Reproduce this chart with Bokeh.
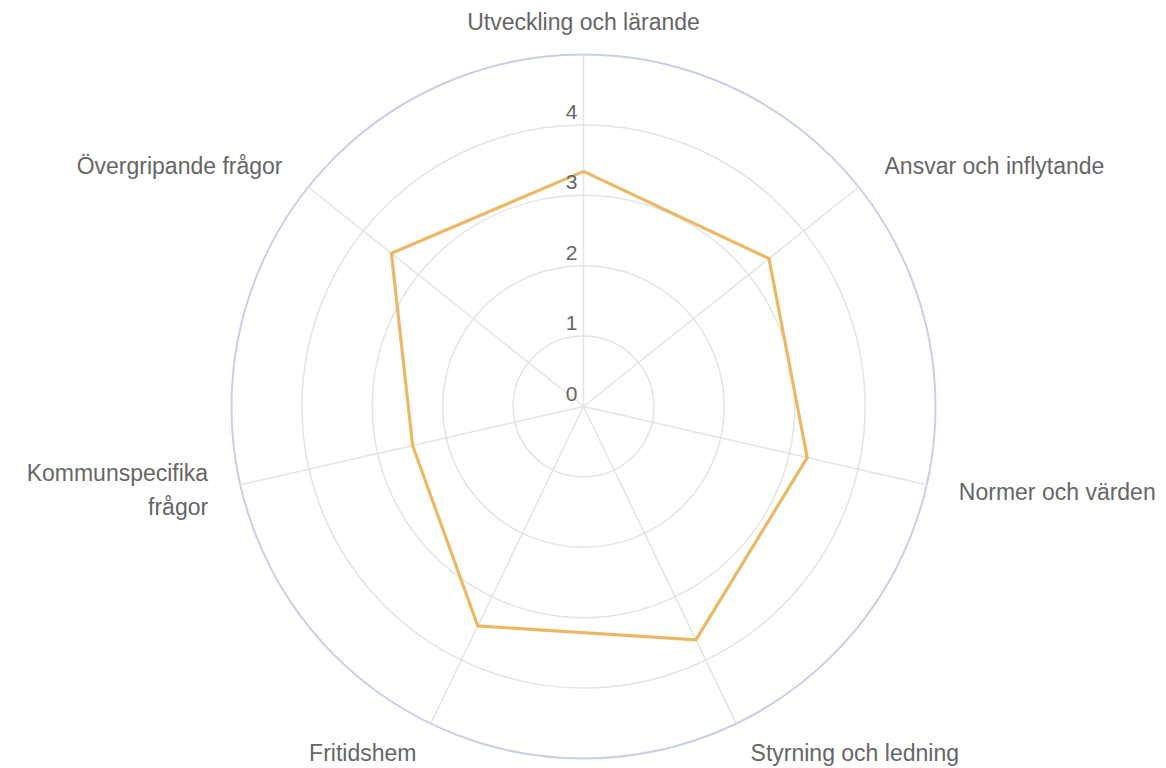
import numpy as np
from bokeh.plotting import figure
from bokeh.models import ColumnDataSource, Range1d
from bokeh.core.properties import value
from bokeh.embed import file_html
from bokeh.resources import INLINE

# ---- data ----
categories = ["Utveckling och lärande", "Ansvar och inflytande", "Normer och värden",
              "Styrning och ledning", "Fritidshem", "Kommunspecifika\nfrågor",
              "Övergripande frågor"]
scores = [3.34, 3.37, 3.26, 3.68, 3.46, 2.49, 3.49]
tick_values = [0, 1, 2, 3, 4]
tick_labels = ["0", "1", "2", "3", "4"]
r_max = 5

# ---- layout ----
W, H = 1166, 768
px = 70.4               # pixels per unit
cx, cy = 583, 406       # centre in canvas pixels
label_r = 385 / px
line_gap = 34           # px between lines of multi-line labels

p = figure(width=W, height=H, output_backend="svg", toolbar_location=None,
           x_range=Range1d(-cx / px, (W - cx) / px),
           y_range=Range1d(-(H - cy) / px, cy / px),
           min_border=0)
p.axis.visible = False
p.grid.visible = False
p.outline_line_color = None
p.background_fill_color = "white"

n = len(categories)
theta = np.arange(n) * 2 * np.pi / n
sx, sy = np.sin(theta), np.cos(theta)

# grid circles
grid_color = "#E4E4E4"
p.circle(x=[0] * 4, y=[0] * 4, radius=[1, 2, 3, 4], fill_color=None,
         line_color=grid_color, line_width=1.5)
p.circle(x=[0], y=[0], radius=[r_max], fill_color=None,
         line_color="#C8D0E6", line_width=2)

# spokes
p.segment(x0=[0] * n, y0=[0] * n, x1=list(sx * r_max), y1=list(sy * r_max),
          line_color=grid_color, line_width=1.5)

# data polygon
vals = np.array(scores)
xs = list(sx * vals) + [sx[0] * vals[0]]
ys = list(sy * vals) + [sy[0] * vals[0]]
p.line(xs, ys, line_color="#EBB866", line_width=3.2, line_join="miter")

# tick labels
p.text(x=[0] * len(tick_values), y=tick_values, text=tick_labels,
       x_offset=-6, y_offset=-13, text_align="right", text_baseline="middle",
       text_font=value("Liberation Sans"), text_font_size="21px",
       text_color="#666666")

# point labels (multi-line labels split into separate right/left aligned lines)
lx, ly, lt, la, lo = [], [], [], [], []
for i, cat in enumerate(categories):
    s = sx[i]
    if abs(s) < 1e-6:
        a = "center"
    elif s > 0:
        a = "left"
    else:
        a = "right"
    lines = cat.split("\n")
    k = len(lines)
    for j, line in enumerate(lines):
        lx.append(sx[i] * label_r)
        ly.append(sy[i] * label_r)
        lt.append(line)
        la.append(a)
        lo.append((j - (k - 1) / 2) * line_gap - (1 if k > 1 else 0) * 2)
src = ColumnDataSource(dict(x=lx, y=ly, t=lt, a=la, o=lo))
p.text(x="x", y="y", text="t", text_align="a", y_offset="o", source=src,
       text_baseline="middle", text_font=value("Liberation Sans"),
       text_font_size="23px", text_color="#666666")

open("out.html", "w").write(file_html(p, INLINE))
